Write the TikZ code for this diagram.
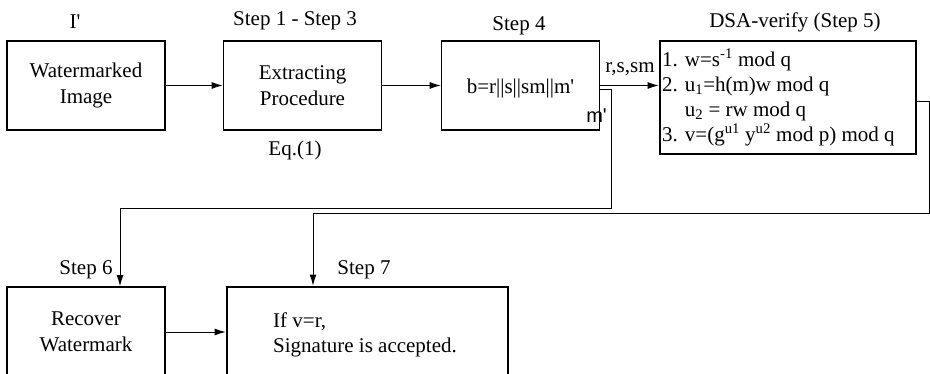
\documentclass[tikz,border=0pt]{standalone}
\usepackage{fontspec}
\setmainfont{Liberation Serif}
\newfontfamily\sansf{Liberation Sans}
\usetikzlibrary{arrows.meta}
\newcommand\sq{\textquotesingle}
\begin{document}
\begin{tikzpicture}[x=1pt,y=-1pt,
  font=\fontsize{21}{26}\selectfont,
  box/.style={draw, line width=1.8pt, rectangle, inner sep=0pt, align=center},
  thickbox/.style={draw, line width=2.8pt, rectangle, inner sep=0pt},
  conn/.style={line width=0.9pt, -{Latex[length=11pt,width=7pt]}},
  lbl/.style={inner sep=0pt}]
\useasboundingbox (0,0) rectangle (930,374);
\clip (0,0) rectangle (930,374);
% boxes
\node[box, minimum width=158pt, minimum height=89pt] (b1) at (86,85.5) {Watermarked\\Image};
\node[box, minimum width=158pt, minimum height=89pt] (b2) at (302.5,85.5) {Extracting\\Procedure};
\node[box, minimum width=158pt, minimum height=89pt] (b3) at (520.5,85.5) {};
\node[lbl] (t3) at (520.5,88) {b=r||s||sm||m\sq};
\node[thickbox, minimum width=256pt, minimum height=113pt] (b4) at (788,97.5) {};
\node[lbl, anchor=west, align=left, font=\fontsize{21}{25}\selectfont] (t4) at (662,97.5)
  {1. w=s\textsuperscript{-1} mod q\\
   2. u\textsubscript{1}=h(m)w mod q\\
   \phantom{2. }u\textsubscript{2} = rw mod q\\
   3. v=(g\textsuperscript{u1} y\textsuperscript{u2} mod p) mod q};
\node[box, minimum width=158pt, minimum height=90pt] (b5) at (86,332) {Recover\\Watermark};
\node[thickbox, minimum width=281pt, minimum height=90pt] (b6) at (367.5,332) {};
\node[lbl, anchor=west, align=left, font=\fontsize{21}{25}\selectfont] (t6) at (273,335)
  {If v=r,\\Signature is accepted.};
% labels
\node[lbl] (l1) at (75,22) {I\sq};
\node[lbl] (l2) at (295,21) {Step 1 - Step 3};
\node[lbl] (l3) at (295,150) {Eq.(1)};
\node[lbl] (l4) at (519,26) {Step 4};
\node[lbl] (l5) at (795,22) {DSA-verify (Step 5)};
\node[lbl] (l6) at (630,69) {r,s,sm};
\node[lbl, anchor=east, font=\sansf\fontsize{20}{22}\selectfont] (l7) at (607,116) {m\sq};
\node[lbl] (l8) at (86,270) {Step 6};
\node[lbl] (l9) at (364,270) {Step 7};
% turning points
\coordinate (k1) at (611,208);
\coordinate (k2) at (120,208);
\coordinate (k3) at (929,213);
\coordinate (k4) at (313,213);
% connectors
\draw[conn] (b1) -- (b2);
\draw[conn] (b2) -- (b3);
\draw[conn] (b3.east) -- (b3.east -| b4.west);
\draw[conn] ([yshift=-4pt]b3.east) -| (k1) -- (k2) -- (k2 |- b5.north);
\draw[conn] ([yshift=-4pt]b4.east) -| (k3) -- (k4) -- (k4 |- b6.north);
\draw[conn] (b5) -- (b6);
\end{tikzpicture}
\end{document}
